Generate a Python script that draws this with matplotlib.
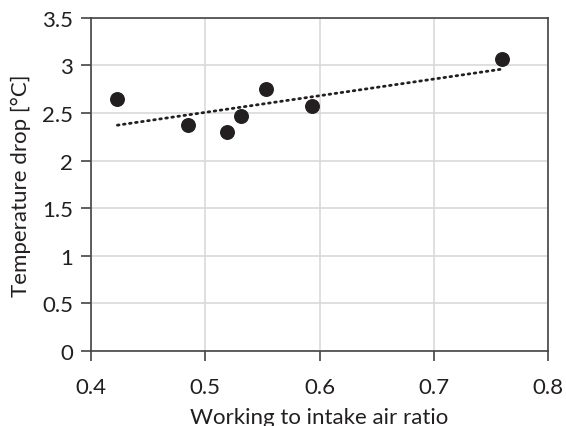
import numpy as np
import matplotlib.pyplot as plt

plt.rcParams['font.family'] = ['Lato', 'DejaVu Sans']

# data
air_ratio = [0.423, 0.485, 0.519, 0.531, 0.553, 0.593, 0.760]
temp_drop = [2.65, 2.37, 2.30, 2.47, 2.75, 2.57, 3.07]
xticks = [0.4, 0.5, 0.6, 0.7, 0.8]
yticks = [0, 0.5, 1, 1.5, 2, 2.5, 3, 3.5]

fig = plt.figure(figsize=(5.66, 4.27), dpi=100)
ax = fig.add_axes([0.161, 0.176, 0.807, 0.78])

ax.scatter(air_ratio, temp_drop, s=95, color='#231f20', zorder=3)

# linear trend line
k, b = np.polyfit(air_ratio, temp_drop, 1)
xs = np.array([min(air_ratio), max(air_ratio)])
ax.plot(xs, k * xs + b, color='#231f20', lw=2, linestyle=(0, (0.6, 1.6)),
        dash_capstyle='round', zorder=2)

ax.set_xlim(0.4, 0.8)
ax.set_ylim(0, 3.5)
ax.set_xticks(xticks)
ax.set_yticks(yticks)
ax.set_xticklabels([str(v) for v in xticks])
ax.set_yticklabels([('%g' % v) for v in yticks])
ax.grid(True, color='#d9d9d9', lw=1.2)
ax.set_axisbelow(True)
for s in ax.spines.values():
    s.set_color('#444444')
    s.set_linewidth(1.2)
ax.tick_params(direction='out', length=7, width=1.2, color='#444444',
               labelsize=16, labelcolor='#231f20')
ax.tick_params(axis='x', pad=12)
ax.tick_params(axis='y', pad=6)

ax.set_xlabel('Working to intake air ratio', fontsize=16, color='#231f20', labelpad=7)
ax.set_ylabel('Temperature drop [°C]', fontsize=16, color='#231f20', labelpad=8)

plt.savefig('out.png', dpi=100)
